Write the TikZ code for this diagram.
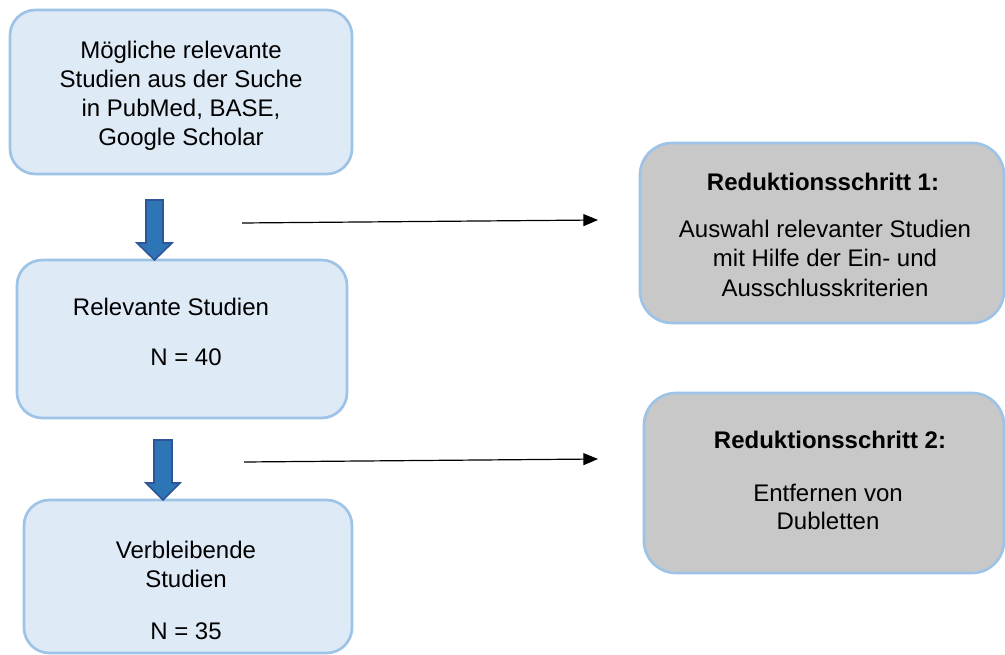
\documentclass[tikz,border=0pt]{standalone}
\usepackage{fontspec}
\setmainfont{Liberation Sans}
\usetikzlibrary{arrows.meta}
\definecolor{boxfill}{RGB}{222,234,246}
\definecolor{boxline}{RGB}{157,195,230}
\definecolor{grayfill}{RGB}{200,200,200}
\definecolor{arrfill}{RGB}{46,117,182}
\definecolor{arrline}{RGB}{47,85,151}
\tikzset{
  bluebox/.style={draw=boxline, fill=boxfill, line width=2pt, rounded corners=19pt, inner sep=0pt},
  graybox/.style={draw=boxline, fill=grayfill, line width=2pt, rounded corners=24pt, inner sep=0pt},
  txt/.style={font=\fontsize{18}{21.6}\selectfont, align=center, inner sep=0pt, anchor=base},
  btxt/.style={txt, font=\fontsize{18}{21.6}\selectfont\bfseries},
  blockarrow/.style={fill=arrfill, draw=arrline, line width=1.2pt, line join=miter},
  thinarrow/.style={line width=0.9pt, -{Triangle[length=11pt,width=9pt]}}
}
\begin{document}
\begin{tikzpicture}[x=0.75pt, y=-0.75pt]
\useasboundingbox (0,0) rectangle (1005,655);
% boxes
\node[bluebox, minimum width=342*0.75pt, minimum height=164*0.75pt] (b1) at (181,92) {};
\node[bluebox, minimum width=330*0.75pt, minimum height=158*0.75pt] (b2) at (182,339) {};
\node[bluebox, minimum width=328*0.75pt, minimum height=153*0.75pt] (b3) at (188,576.5) {};
\node[graybox, minimum width=364*0.75pt, minimum height=180*0.75pt] (r1) at (822,233) {};
\node[graybox, minimum width=360*0.75pt, minimum height=180*0.75pt] (r2) at (824,483) {};
% texts (y = baseline)
\node[txt] (t1a) at (181,59) {Mögliche relevante};
\node[txt] (t1b) at (181,88) {Studien aus der Suche};
\node[txt] (t1c) at (181,117) {in PubMed, BASE,};
\node[txt] (t1d) at (181,146) {Google Scholar};
\node[txt] (t2a) at (171,316) {Relevante Studien};
\node[txt] (t2b) at (186,366) {N = 40};
\node[txt] (t3a) at (186,558) {Verbleibende};
\node[txt] (t3b) at (186,587) {Studien};
\node[txt] (t3c) at (186,639) {N = 35};
\node[btxt] (r1a) at (823,191) {Reduktionsschritt 1:};
\node[txt] (r1b) at (825,238) {Auswahl relevanter Studien};
\node[txt] (r1c) at (825,267) {mit Hilfe der Ein- und};
\node[txt] (r1d) at (825,297) {Ausschlusskriterien};
\node[btxt] (r2a) at (830,448) {Reduktionsschritt 2:};
\node[txt] (r2b) at (828,501) {Entfernen von};
\node[txt] (r2c) at (828,529) {Dubletten};
% block arrows
\draw[blockarrow] (146,200) -- (163,200) -- (163,243) -- (172,243) -- (154.5,260) -- (137,243) -- (146,243) -- cycle;
\draw[blockarrow] (154,440) -- (172,440) -- (172,483) -- (180,483) -- (163,500) -- (146,483) -- (154,483) -- cycle;
% thin arrows
\coordinate (a1s) at (242,223);
\coordinate (a1e) at (598,220);
\coordinate (a2s) at (244,462);
\coordinate (a2e) at (598,459);
\draw[thinarrow] (a1s) -- (a1e);
\draw[thinarrow] (a2s) -- (a2e);
\end{tikzpicture}
\end{document}
